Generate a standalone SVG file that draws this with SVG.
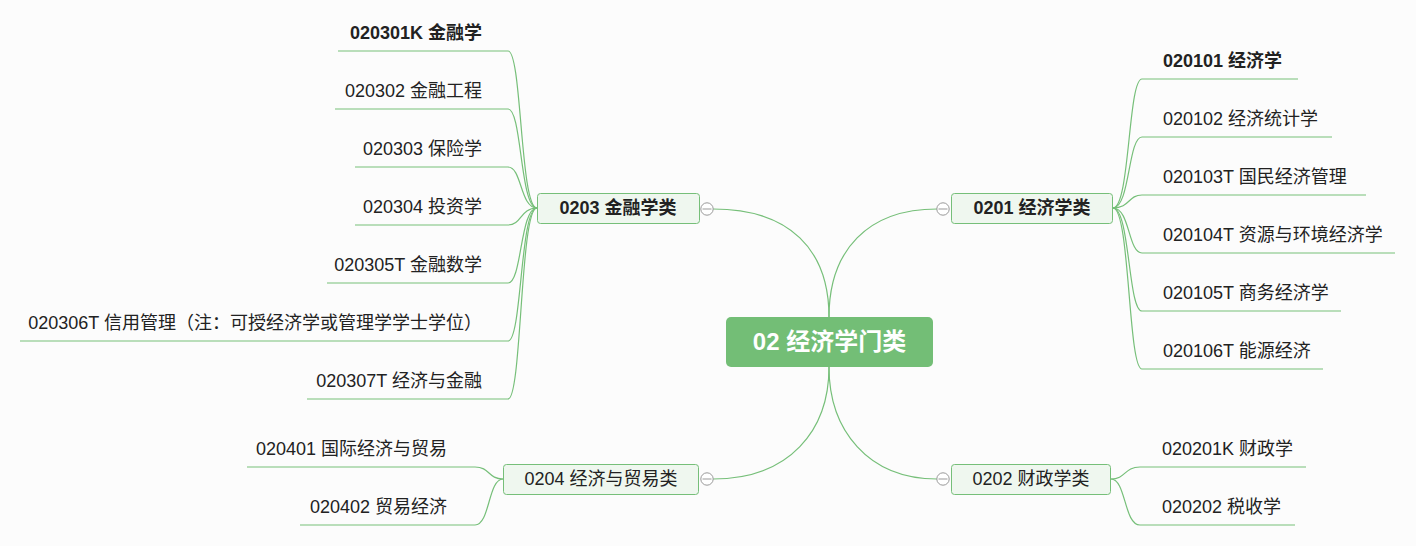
<svg xmlns="http://www.w3.org/2000/svg" width="1416" height="546" viewBox="0 0 1416 546">
<style>
text{font-family:"Liberation Sans","Noto Sans CJK SC",sans-serif;fill:#222;}
.leaf{font-size:18px;}
.b{font-weight:bold;}
.br{font-size:18px;text-anchor:middle;}
.box{fill:#eff7ef;stroke:#76bf79;stroke-width:1;}
.c{fill:none;stroke:#76bf79;stroke-width:1.2;}
.tog{fill:#fff;stroke:#999;stroke-width:1;}
.togl{stroke:#999;stroke-width:1;}
.r{text-anchor:end;}
</style>
<rect width="1416" height="546" fill="#fcfcfc"/>
<g id="connectors">
<path class="c" d="M829 317 C829 250 790 209 713 209"/>
<path class="c" d="M829 317 C829 250 868 209 937 209"/>
<path class="c" d="M829 367 C829 430 790 479 713 479"/>
<path class="c" d="M829 367 C829 430 868 479 937 479"/>
<path class="c" d="M1113 208 C1130 208 1128 79 1142 79 L1298 79"/>
<path class="c" d="M1113 208 C1130 208 1128 137 1142 137 L1332 137"/>
<path class="c" d="M1113 208 C1130 208 1128 195 1142 195 L1366 195"/>
<path class="c" d="M1113 208 C1130 208 1128 253 1142 253 L1395 253"/>
<path class="c" d="M1113 208 C1130 208 1128 311 1142 311 L1341 311"/>
<path class="c" d="M1113 208 C1130 208 1128 369 1142 369 L1323 369"/>
<path class="c" d="M537 208 C520 208 522 51 508 51 L338 51"/>
<path class="c" d="M537 208 C520 208 522 109 508 109 L335 109"/>
<path class="c" d="M537 208 C520 208 522 167 508 167 L355 167"/>
<path class="c" d="M537 208 C520 208 522 225 508 225 L355 225"/>
<path class="c" d="M537 208 C520 208 522 283 508 283 L327 283"/>
<path class="c" d="M537 208 C520 208 522 341 508 341 L20 341"/>
<path class="c" d="M537 208 C520 208 522 399 508 399 L307 399"/>
<path class="c" d="M503 479 C488 479 490 467 475 467 L247 467"/>
<path class="c" d="M503 479 C488 479 490 525 475 525 L300 525"/>
<path class="c" d="M1111 479 C1126 479 1124 467 1140 467 L1306 467"/>
<path class="c" d="M1111 479 C1126 479 1124 525 1140 525 L1295 525"/>
</g>
<g id="root">
<rect x="726" y="317" width="207" height="50" rx="5" fill="#73be76"/>
<text x="829.5" y="350" font-size="24" font-weight="bold" text-anchor="middle" style="fill:#fff">02 经济学门类</text>
</g>
<g id="n0203">
<rect class="box" x="537.5" y="193.5" width="162" height="30" rx="3"/>
<text class="br b" x="618" y="214">0203 金融学类</text>
<circle class="tog" cx="707" cy="209" r="6.2"/><line class="togl" x1="702.5" y1="209" x2="711.5" y2="209"/>
</g>
<g id="n0201">
<rect class="box" x="951.5" y="193.5" width="161" height="30" rx="3"/>
<text class="br b" x="1032" y="214">0201 经济学类</text>
<circle class="tog" cx="943" cy="209" r="6.2"/><line class="togl" x1="938.5" y1="209" x2="947.5" y2="209"/>
</g>
<g id="n0204">
<rect class="box" x="503.5" y="464.5" width="195" height="30" rx="3"/>
<text class="br" x="601" y="485">0204 经济与贸易类</text>
<circle class="tog" cx="707" cy="479" r="6.2"/><line class="togl" x1="702.5" y1="479" x2="711.5" y2="479"/>
</g>
<g id="n0202">
<rect class="box" x="951.5" y="464.5" width="159" height="30" rx="3"/>
<text class="br" x="1031" y="485">0202 财政学类</text>
<circle class="tog" cx="943" cy="479" r="6.2"/><line class="togl" x1="938.5" y1="479" x2="947.5" y2="479"/>
</g>
<g id="leaf020101"><text class="leaf b" x="1163" y="67">020101 经济学</text></g>
<g id="leaf020102"><text class="leaf" x="1163" y="125">020102 经济统计学</text></g>
<g id="leaf020103T"><text class="leaf" x="1163" y="183">020103T 国民经济管理</text></g>
<g id="leaf020104T"><text class="leaf" x="1163" y="241">020104T 资源与环境经济学</text></g>
<g id="leaf020105T"><text class="leaf" x="1163" y="299">020105T 商务经济学</text></g>
<g id="leaf020106T"><text class="leaf" x="1163" y="357">020106T 能源经济</text></g>
<g id="leaf020301K"><text class="leaf b r" x="482" y="38.5">020301K 金融学</text></g>
<g id="leaf020302"><text class="leaf r" x="482" y="96.5">020302 金融工程</text></g>
<g id="leaf020303"><text class="leaf r" x="482" y="154.5">020303 保险学</text></g>
<g id="leaf020304"><text class="leaf r" x="482" y="212.5">020304 投资学</text></g>
<g id="leaf020305T"><text class="leaf r" x="482" y="270.5">020305T 金融数学</text></g>
<g id="leaf020306T"><text class="leaf r" x="482" y="328.5">020306T 信用管理（注：可授经济学或管理学学士学位）</text></g>
<g id="leaf020307T"><text class="leaf r" x="482" y="386.5">020307T 经济与金融</text></g>
<g id="leaf020401"><text class="leaf r" x="447" y="455">020401 国际经济与贸易</text></g>
<g id="leaf020402"><text class="leaf r" x="447" y="513">020402 贸易经济</text></g>
<g id="leaf020201K"><text class="leaf" x="1162" y="455">020201K 财政学</text></g>
<g id="leaf020202"><text class="leaf" x="1162" y="513">020202 税收学</text></g>
</svg>
